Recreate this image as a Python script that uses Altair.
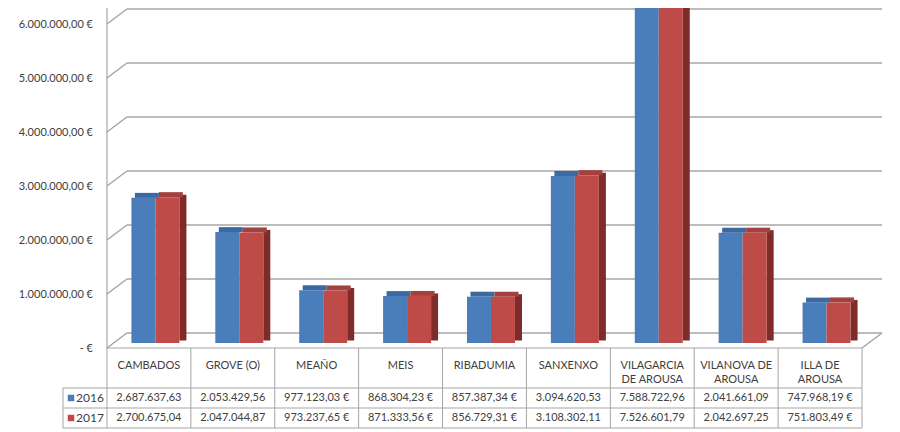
import altair as alt
import pandas as pd

# ---------------- data ----------------
categories = ["CAMBADOS", "GROVE (O)", "MEAÑO", "MEIS", "RIBADUMIA", "SANXENXO",
              "VILAGARCIA\nDE AROUSA", "VILANOVA DE\nAROUSA", "ILLA DE\nAROUSA"]
years = ["2016", "2017"]
values_2016 = [2687637.63, 2053429.56, 977123.03, 868304.23, 857387.34,
               3094620.53, 7588722.96, 2041661.09, 747968.19]
values_2017 = [2700675.04, 2047044.87, 973237.65, 871333.56, 856729.31,
               3108302.11, 7526601.79, 2042697.25, 751803.49]
labels_2016 = ["2.687.637,63", "2.053.429,56", "977.123,03 €", "868.304,23 €", "857.387,34 €",
               "3.094.620,53", "7.588.722,96", "2.041.661,09", "747.968,19 €"]
labels_2017 = ["2.700.675,04", "2.047.044,87", "973.237,65 €", "871.333,56 €", "856.729,31 €",
               "3.108.302,11", "7.526.601,79", "2.042.697,25", "751.803,49 €"]
tick_values = [0, 1000000, 2000000, 3000000, 4000000, 5000000, 6000000]
tick_labels = ["-    €", "1.000.000,00 €", "2.000.000,00 €", "3.000.000,00 €",
               "4.000.000,00 €", "5.000.000,00 €", "6.000.000,00 €"]
colors = ["#4a7ebb", "#be4b48"]
top_colors = ["#3d69a3", "#a4403d"]
side_color = "#7e2b29"

# ---------------- layout ----------------
n = len(categories)
W, H = 799, 420
LEG = -0.524            # legend column of the data table (left of first category)
Y0, PX_M = 340.0, 54.0  # front floor line (plot px) and px per million
ROW_PX = 20.0           # table row unit (px)
ROW_EUR = ROW_PX / PX_M * 1e6   # one table row expressed on the value scale
DEPTH_X, DEPTH_Y = 20, -15
FONT = "Lato"
TXT = "#404040"
LINE = "#a6a6a6"

xs = alt.Scale(domain=[LEG, n], nice=False, zero=False)
eur = alt.Scale(domain=[-(H - Y0) / PX_M * 1e6, Y0 / PX_M * 1e6], nice=False, zero=False)
cscale = alt.Scale(domain=years, range=colors)
top_max = Y0 / PX_M * 1e6

# ---------------- frames ----------------
grid_df = pd.DataFrame({"v": tick_values, "x0": 0.0, "x1": float(n), "label": tick_labels})
# slanted depth edges: left wall at every gridline + right end of the floor
slant_df = pd.DataFrame({
    "xa": [0.0] * len(tick_values) + [float(n)],
    "va": tick_values + [0],
})
slant_df["xb"] = slant_df["xa"]
slant_df["vb"] = slant_df["va"]
bars = pd.DataFrame({
    "xc": [i + 0.5 for i in range(n)] * 2,
    "year": ["2016"] * n + ["2017"] * n,
    "value": values_2016 + values_2017,
    "zero": 0.0,
})
wall_df = pd.DataFrame({"x": [0.0], "y0": [0.0], "y1": [top_max]})

rule_rows = []
for r in [0, 2, 3, 4]:
    rule_rows.append({"x": 0.0 if r == 0 else LEG, "x2": float(n), "r": r, "r2": r})
for i in range(n + 1):
    rule_rows.append({"x": float(i), "x2": float(i), "r": 0, "r2": 4})
rule_rows.append({"x": LEG, "x2": LEG, "r": 2, "r2": 4})
table_rules = pd.DataFrame(rule_rows)

cat_df = pd.DataFrame({"xc": [i + 0.5 for i in range(n)], "r": 0, "label": categories})
val_df = pd.DataFrame({
    "xc": [i + 0.5 for i in range(n)] * 2,
    "r": [2.5] * n + [3.5] * n,
    "label": labels_2016 + labels_2017,
})
leg_df = pd.DataFrame({"x": [LEG, LEG], "r": [2.5, 3.5], "year": years})

X = lambda f: alt.X(f, scale=xs, axis=None)
YE = lambda f: alt.Y(f, scale=eur, axis=None)

# ---------------- chart area ----------------
gridlines = alt.Chart(grid_df).mark_rule(
    color=LINE, strokeWidth=1.5, xOffset=DEPTH_X, x2Offset=DEPTH_X, yOffset=DEPTH_Y
).encode(x=X("x0:Q"), x2="x1:Q", y=YE("v:Q"))

ylabels = alt.Chart(grid_df).mark_text(
    align="right", baseline="middle", dx=-14, dy=1, font=FONT, fontSize=11, color=TXT
).encode(x=X("x0:Q"), y=YE("v:Q"), text="label:N")

slants = alt.Chart(slant_df).mark_rule(
    color=LINE, strokeWidth=1.5, x2Offset=DEPTH_X, y2Offset=DEPTH_Y
).encode(x=X("xa:Q"), x2="xb:Q", y=YE("va:Q"), y2="vb:Q")

wall_front = alt.Chart(wall_df).mark_rule(color=LINE, strokeWidth=1.2).encode(
    x=X("x:Q"), y=YE("y0:Q"), y2="y1:Q"
)


def bar_layer(year, x_off, x2_off, y_off, y2_off, kind="front"):
    base = alt.Chart(bars).transform_filter(f"datum.year == '{year}'")
    if kind == "side":
        return base.mark_bar(color=side_color, clip=True, xOffset=x_off, x2Offset=x2_off,
                             yOffset=y_off, y2Offset=y2_off).encode(
            x=X("xc:Q"), x2="xc:Q", y=YE("value:Q"), y2="zero:Q")
    if kind == "top":
        return base.mark_bar(color=top_colors[years.index(year)], clip=True, xOffset=x_off,
                             x2Offset=x2_off, yOffset=y_off, y2Offset=y2_off).encode(
            x=X("xc:Q"), x2="xc:Q", y=YE("value:Q"), y2="value:Q")
    return base.mark_bar(clip=True, xOffset=x_off, x2Offset=x2_off,
                         yOffset=y_off, y2Offset=y2_off).encode(
        x=X("xc:Q"), x2="xc:Q", y=YE("value:Q"), y2="zero:Q",
        color=alt.Color("year:N", scale=cscale, legend=None))


side_red = bar_layer("2017", 30.5, 37.5, -7.5, -7.5, "side")
front_blue = bar_layer("2016", -17.5, 6.5, -5, -5)
front_red = bar_layer("2017", 6.5, 30.5, -5, -5)
top_blue = bar_layer("2016", -14, 10, -10, -5, "top")
top_red = bar_layer("2017", 10, 34, -10, -5, "top")

# ---------------- data table (rows placed below the floor on the same scale) ----------------
row_calc = {"ry": f"-datum.r * {ROW_EUR}"}
t_rules = alt.Chart(table_rules).transform_calculate(
    ry=f"-datum.r * {ROW_EUR}", ry2=f"-datum.r2 * {ROW_EUR}"
).mark_rule(color=LINE, strokeWidth=1).encode(
    x=X("x:Q"), x2="x2:Q", y=YE("ry:Q"), y2="ry2:Q"
)
t_cats = alt.Chart(cat_df).transform_calculate(**row_calc).mark_text(
    baseline="top", align="center", dy=12, lineHeight=14, lineBreak="\n",
    font=FONT, fontSize=11, color=TXT
).encode(x=X("xc:Q"), y=YE("ry:Q"), text=alt.Text("label:N"))
t_vals = alt.Chart(val_df).transform_calculate(**row_calc).mark_text(
    baseline="middle", align="center", dy=0, font=FONT, fontSize=11, color=TXT
).encode(x=X("xc:Q"), y=YE("ry:Q"), text="label:N")
t_leg_sq = alt.Chart(leg_df).transform_calculate(**row_calc).mark_square(
    size=42, opacity=1, xOffset=8
).encode(
    x=X("x:Q"), y=YE("ry:Q"),
    color=alt.Color("year:N", scale=cscale, legend=None),
)
t_leg_txt = alt.Chart(leg_df).transform_calculate(**row_calc).mark_text(
    align="left", baseline="middle", dx=13, dy=0, font=FONT, fontSize=12, color=TXT
).encode(x=X("x:Q"), y=YE("ry:Q"), text="year:N")

chart = alt.layer(
    gridlines, ylabels, slants, wall_front,
    side_red, front_blue, front_red, top_blue, top_red,
    t_rules, t_cats, t_vals, t_leg_sq, t_leg_txt,
).properties(
    width=W, height=H,
    background="white",
    autosize=alt.AutoSizeParams(type="none"),
    padding={"left": 55, "top": 0, "right": 30, "bottom": 4},
).configure_view(
    stroke="transparent", strokeWidth=0
).configure_axis(disable=True)

chart.save("out.html", embed_options={"renderer": "svg", "actions": False})
